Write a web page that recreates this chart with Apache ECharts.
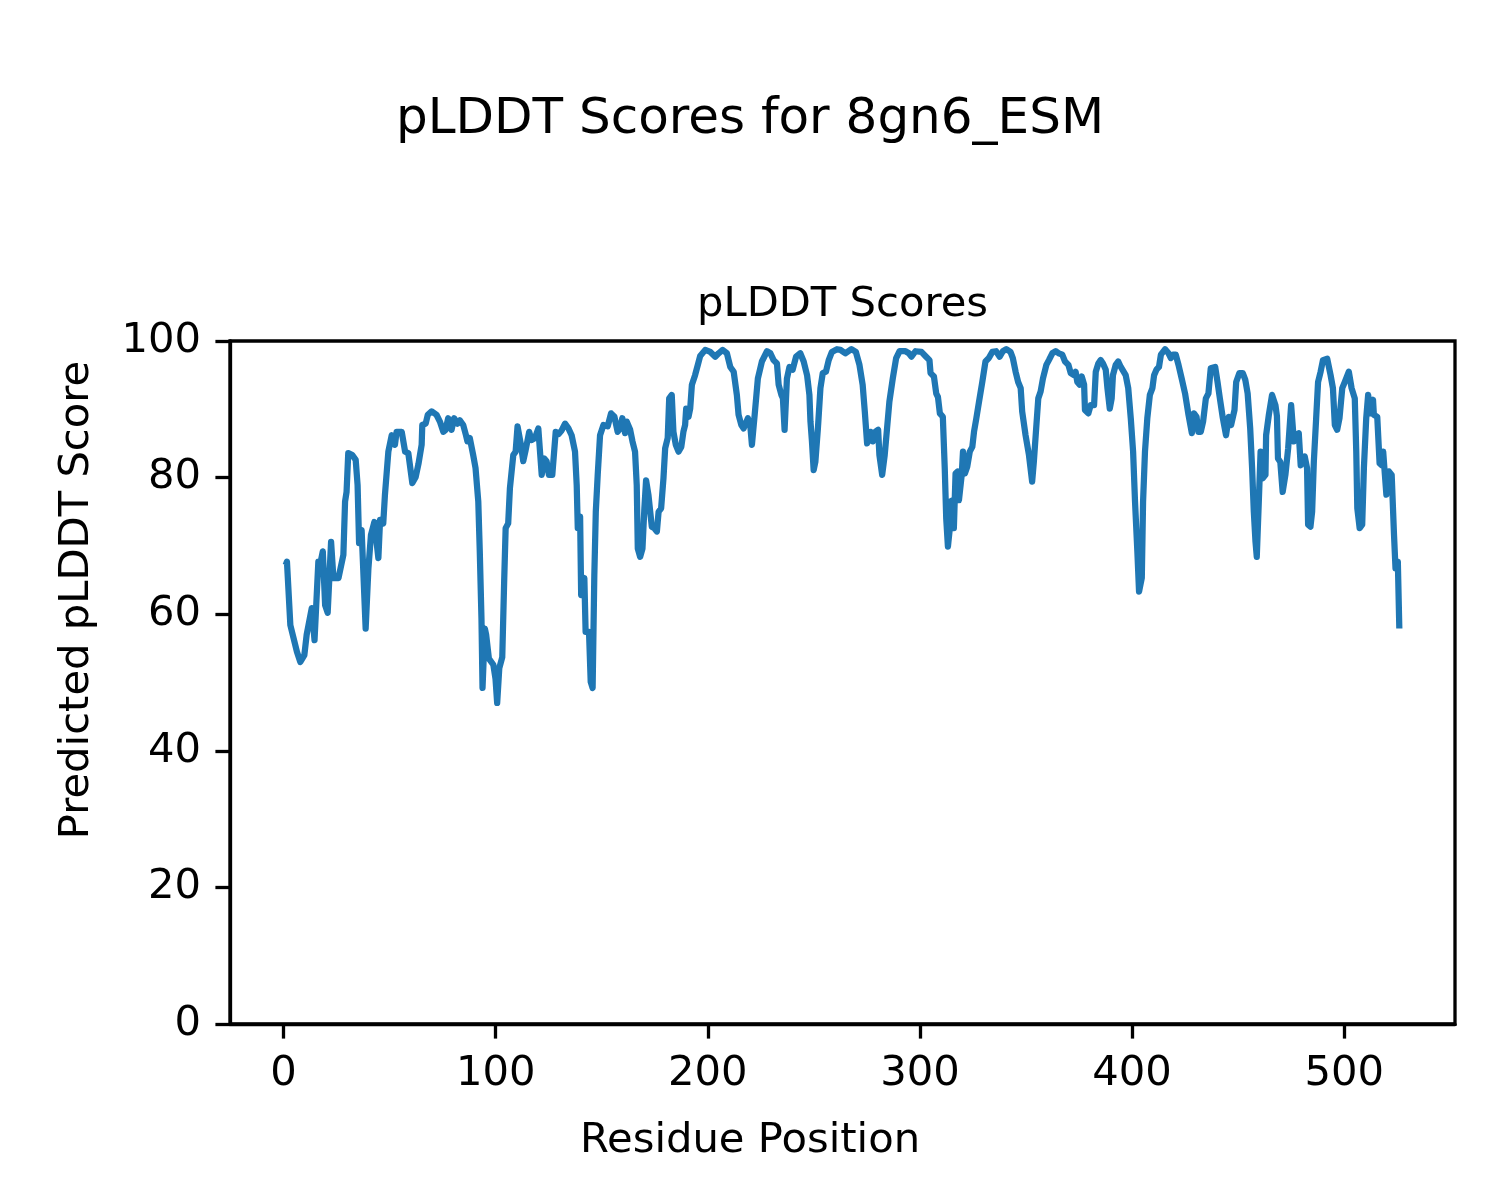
<!DOCTYPE html>
<html>
<head>
<meta charset="utf-8">
<script src="https://cdn.jsdelivr.net/npm/echarts@6/dist/echarts.min.js"></script>
<style>
html,body{margin:0;padding:0;background:#fff;}
#chart{width:1500px;height:1200px;}
</style>
</head>
<body>
<div id="chart"></div>
<script>
// ---- data ----
const figureTitle = 'pLDDT Scores for 8gn6_ESM';
const axesTitle = 'pLDDT Scores';
const xAxisName = 'Residue Position';
const yAxisName = 'Predicted pLDDT Score';
const xTickValues = [0, 100, 200, 300, 400, 500];
const yTickValues = [0, 20, 40, 60, 80, 100];

const residuePositions = [
1,1.6,3.2,4.7,6.3,7.9,9.8,10.9,13.3,14.6,16.4,17.4,18.5,19.6,20.8,22.4,23.5,25.9,28.2,29,29.7,30.5,32.4,34,34.9,35.6,36.8,38.7,40,41.2,42.8,44.7,45.5,47,47.8,49.4,51,52.5,53.3,55.7,57.3,58.8,60.7,62.3,63.6,65.1,65.4,67,68,69.8,72.1,73.7,75.3,76.4,77.6,79.2,80.4,82,83.1,84.7,86,86.7,87.8,89.4,90.5,91.8,92.5,93.3,93.8,94.9,95.5,96.8,98.9,99.9,100.7,101.7,103.1,104,104.7,105.9,106.7,108.3,109.4,110.3,111.9,113,114.1,115.8,116.9,118.5,120.1,120.9,121.7,122.9,124,125.1,126.7,128.3,129.7,131.1,132.7,134.3,135.8,137.4,138.2,138.7,139.8,140.3,141.8,142.4,144,144.8,145.7,146.5,147.2,148.1,149.2,150.8,152.8,154.4,156,157.5,158.6,159.7,161,161.8,163.4,164.5,165.7,166.5,167,168.1,169.2,170.1,170.9,172,172.7,173.6,174.7,176,176.8,178,179.1,179.9,181.1,181.8,183,183.8,184.9,186.2,187.5,188.5,189.3,189.8,190.9,191.7,192.5,194,195.3,196.4,197.2,198.8,201.2,203.5,205.1,207,209,210.6,212.2,213.7,214.5,215.8,216.9,218.9,220,220.8,222.1,223.6,225.5,227.9,229.5,231,232.6,233.4,234.7,235.4,236.2,237.3,238.5,240,241.6,243.6,245.2,246.8,247.9,248.4,249.1,249.9,250.7,251.9,253.1,254.2,255.7,257,258.5,260.9,262.5,264.8,267.7,269.8,271.5,273,274,275.1,276.7,277.8,279,280.3,280.9,282.2,283.4,284.5,285.6,287.2,288.8,290.4,293.2,294.8,296,297.9,300.7,302.9,304.5,305,306.6,307.7,308.5,309.4,310.8,311.7,312.4,313.2,314.1,314.4,315.5,316,316.5,316.8,317.8,318.4,319.7,320.3,321.2,322.3,323.5,324.7,325.5,326.6,327.8,329.4,330.9,332.5,334.1,335.9,337.6,339.1,340.7,342.7,343.8,345.1,346.3,347.5,348.2,349.8,351.4,352.9,353.7,354.8,355.8,356.9,358,359.6,360.8,362.4,364,365.5,367.1,368.4,370,371.1,372.6,373.4,374.2,375.3,376.3,377.4,377.8,379.4,380.5,382.1,382.9,384.1,385.2,386.3,387.6,388.4,389.5,390.4,391,392.3,393.5,394.7,395.4,397,398.2,399.4,400.5,401.4,402.5,403.3,404.6,405.2,406.1,407.2,408.4,409.6,410.4,411.5,412.7,413.6,415.6,417.2,418.3,419.4,420.6,421.9,423.4,425,426.6,428.2,429.2,430.4,431.3,432.4,433.5,434.8,436,437.1,439.2,440.3,441.4,442.7,444.3,445.6,446.7,448.3,449.1,450.6,452.2,453.4,454.5,455.7,456.6,457.4,458.2,458.8,459.7,460.6,461.6,462.9,463.2,464.5,466,467.6,468.3,468.8,469.9,471,472.3,473.6,475,476.3,477.4,478.6,479.5,480.4,481.4,482.5,483,484.1,484.9,485.7,486.8,487.7,488.9,490,492,493.6,494.7,495.6,496.7,497.8,499.1,500.3,501.2,502.2,503.5,505,505.7,506.2,507.3,508.5,509.3,510.4,511.3,512.5,513.6,514,515.6,516.7,517.7,518.4,519.2,519.9,521.1,522.4,523.5,524.2,525.3,526
];

const plddtScores = [
67.2,67.7,58.4,56.5,54.5,53.0,54.0,57,60.9,56.2,67.7,67.5,69.2,61.3,60.2,70.6,65.3,65.3,68.7,76.5,77.9,83.6,83.3,82.6,78.9,70.4,72.3,57.9,66.7,71.6,73.5,68.2,73.8,73.3,77.5,83.8,86.2,84.8,86.7,86.7,83.8,83.6,79.2,80.1,82,84.8,87.7,87.9,89.2,89.7,89.2,88.2,86.7,87,88.7,87,88.7,87.9,88.4,87.7,86.2,85.3,85.8,83.3,81.4,76.5,69.2,59.4,49.2,57.9,57,53.5,52.6,50.6,47,52.1,53.7,64.8,72.6,73.3,78.4,83.3,83.8,87.5,84.8,82.4,84,86.7,85.5,85.8,87.2,87.2,80.4,82.8,82.4,80.4,80.4,86.7,86.4,86.9,87.9,87.2,86.2,83.8,78.9,72.6,74.3,62.8,65.3,57.4,57.4,50.1,49.2,65.7,75,80.4,86.2,87.7,87.5,89.4,88.9,86.7,87.2,88.7,86.5,88.2,87,85.3,83.8,78.9,69.6,68.4,69.6,75.5,79.6,77.5,77.3,72.8,72.6,72.1,75,75.5,79.9,84.3,85.8,91.6,92.1,86.7,84.8,83.8,84.5,86.7,87.7,90.1,88.9,90.1,93.6,95,96.5,97.8,98,98.7,98.4,97.7,98.2,98.7,98.2,96.2,95.5,92.1,89.2,87.7,87.2,88.7,87.7,84.8,89.2,94.5,97,98.5,98.2,97.2,96.7,93.6,92.1,91.6,87,94.5,96.2,95.8,97.7,98.2,97,95,92.1,88.2,85.3,81.1,82.3,87.2,93.1,95.3,95.5,97.2,98.4,98.8,98.7,98.2,98.8,98.4,96.5,93.6,89.7,85,86.7,85.3,86.7,87,83.3,80.4,83.3,87.2,91.1,94.5,97.5,98.5,98.5,98.2,97.7,98.5,98.4,97.7,97.2,95.3,94.8,92.3,91.8,89.4,88.9,81.4,74,69.9,72.6,76.5,76.7,72.6,72.6,80.6,80.9,76.7,80.4,83.8,80.6,81.6,83.8,84.5,86.7,88.7,91,94,97,97.5,98.4,98.5,97.7,98.5,98.8,98.4,97.5,95.5,94,93.1,89.7,86.2,83.3,79.4,82.3,87.2,91.6,92.6,94.5,96.5,97.2,98.2,98.5,98.2,98,97,96.5,95.3,95,95.5,94,93.6,94.8,93.6,89.9,89.4,90.6,90.6,95.5,96.7,97.2,96.7,95.8,93.1,90.1,91.6,95,96.5,97,96.2,96.2,95,93.1,88.7,83.8,76.5,69.2,63.3,65.3,76.5,83.8,88.7,92.1,93.1,95,95.8,96.2,98,98.8,98.2,97.5,98,98,96.5,94.5,92.3,89.2,86.5,89.4,88.9,86.7,86.7,88.2,91.6,92.3,96,96.2,94,91.6,88.9,86.2,88.9,87.7,89.9,94,95.3,95.3,94.3,92.3,87.2,81.4,75,70.6,68.4,76,83.8,79.9,80.4,86.2,89.2,92.1,90.6,89,82.8,82.3,77.9,80.4,84.3,90.6,85.3,86.2,86.5,81.8,81.6,83.1,81.4,73.1,72.8,75,82.3,88.7,94,95.5,97.2,97.4,95,93.1,87.7,87,88.7,93.1,94,93.9,95.5,93.1,91.6,83.8,75.5,72.6,73.1,81.4,88.7,92.1,89.4,91.4,89.2,88.9,82.1,81.8,83.8,80.4,77.5,80.9,80.4,71.6,66.7,67.7,57.9
];

const seriesData = residuePositions.map((x, i) => [x, plddtScores[i]]);

const FONT = '"DejaVu Sans", "Liberation Sans", sans-serif';
const TICK_FS = 41.7;

const chart = echarts.init(document.getElementById('chart'), null, {renderer: 'canvas'});
chart.setOption({
  backgroundColor: '#ffffff',
  animation: false,
  grid: {
    left: 230, right: 45, top: 341, bottom: 176,
    show: true, borderColor: '#000', borderWidth: 3.3, backgroundColor: 'transparent'
  },
  xAxis: {
    type: 'value',
    min: -25.25, max: 552.25,
    axisLine: {show: true, onZero: false, lineStyle: {color: '#000', width: 3.3}},
    axisTick: {show: true, inside: false, length: 14.6, lineStyle: {color: '#000', width: 3.3}, customValues: xTickValues},
    axisLabel: {show: true, margin: 29, color: '#000', fontSize: TICK_FS, fontFamily: FONT, customValues: xTickValues},
    splitLine: {show: false}
  },
  yAxis: {
    type: 'value',
    min: 0, max: 100, interval: 20,
    axisLine: {show: true, onZero: false, lineStyle: {color: '#000', width: 3.3}},
    axisTick: {show: true, inside: false, length: 14.6, lineStyle: {color: '#000', width: 3.3}, customValues: yTickValues},
    axisLabel: {show: true, margin: 29, color: '#000', fontSize: TICK_FS, fontFamily: FONT, customValues: yTickValues},
    splitLine: {show: false}
  },
  series: [{
    type: 'line',
    data: seriesData,
    showSymbol: false,
    symbol: 'none',
    clip: true,
    lineStyle: {color: '#1f77b4', width: 6.25, cap: 'butt', join: 'round'},
    itemStyle: {color: '#1f77b4'}
  }],
  graphic: [
    {type: 'text', x: 750, y: 120, style: {text: figureTitle, font: '50px ' + FONT, fill: '#000', align: 'center', verticalAlign: 'middle', textAlign: 'center', textVerticalAlign: 'middle'}},
    {type: 'text', x: 842.5, y: 305, style: {text: axesTitle, font: '41.7px ' + FONT, fill: '#000', align: 'center', verticalAlign: 'middle', textAlign: 'center', textVerticalAlign: 'middle'}},
    {type: 'text', x: 750, y: 1141, style: {text: xAxisName, font: '41.7px ' + FONT, fill: '#000', align: 'center', verticalAlign: 'middle', textAlign: 'center', textVerticalAlign: 'middle'}},
    {type: 'text', x: 77.5, y: 600, rotation: Math.PI / 2, style: {text: yAxisName, font: '41.7px ' + FONT, fill: '#000', align: 'center', verticalAlign: 'middle', textAlign: 'center', textVerticalAlign: 'middle'}}
  ]
});
</script>
</body>
</html>
